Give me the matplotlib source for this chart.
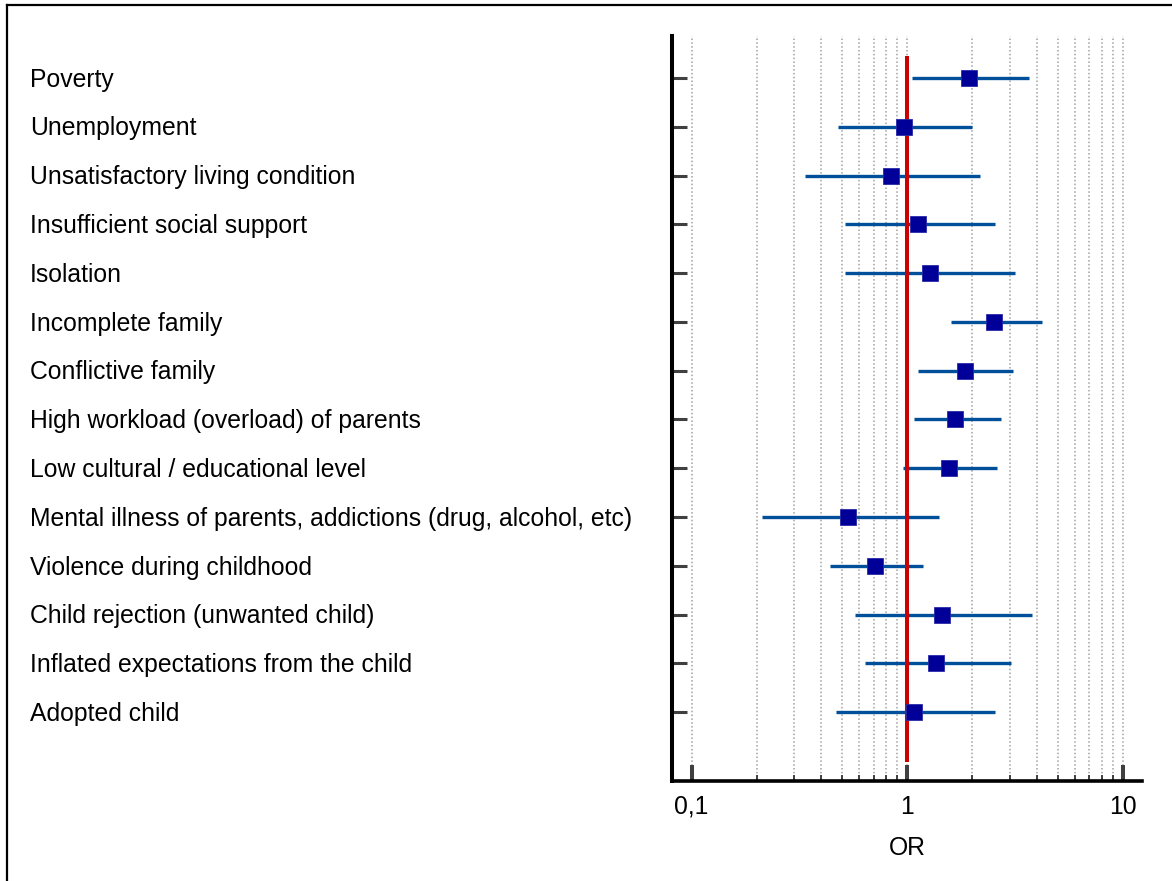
import matplotlib
matplotlib.use("Agg")
import matplotlib.pyplot as plt
import matplotlib.transforms as mtransforms
from matplotlib.lines import Line2D
from matplotlib.ticker import FixedLocator, NullFormatter

plt.rcParams['font.family'] = ['Liberation Sans', 'DejaVu Sans']

factors = ["Poverty", "Unemployment", "Unsatisfactory living condition",
           "Insufficient social support", "Isolation", "Incomplete family",
           "Conflictive family", "High workload (overload) of parents",
           "Low cultural / educational level",
           "Mental illness of parents, addictions (drug, alcohol, etc)",
           "Violence during childhood", "Child rejection (unwanted child)",
           "Inflated expectations from the child", "Adopted child"]
odds_ratio = [1.93, 0.97, 0.84, 1.12, 1.27, 2.53, 1.86, 1.67, 1.57, 0.53, 0.71, 1.45, 1.36, 1.08]
ci_low = [1.05, 0.475, 0.334, 0.517, 0.517, 1.59, 1.12, 1.07, 0.96, 0.211, 0.437, 0.574, 0.636, 0.465]
ci_high = [3.66, 2.0, 2.17, 2.56, 3.16, 4.23, 3.09, 2.73, 2.62, 1.40, 1.19, 3.80, 3.02, 2.56]

major_ticks = [0.1, 1, 10]
major_labels = ["0,1", "1", "10"]
minor_ticks = [0.2, 0.3, 0.4, 0.5, 0.6, 0.7, 0.8, 0.9, 2, 3, 4, 5, 6, 7, 8, 9]

fig = plt.figure(figsize=(11.72, 8.81), dpi=100)
ax = fig.add_axes([0.5736, 0.1135, 0.4006, 0.8456])

rows = list(range(len(factors)))

# confidence intervals
ax.hlines(rows, ci_low, ci_high, color='#004f9a', linewidth=2.4, zorder=3)
# reference line at OR = 1
ax.plot([1, 1], [-0.45, 14.02], color='#cc0000', linewidth=2.9, zorder=4, solid_capstyle='butt')
# point estimates
ax.plot(odds_ratio, rows, linestyle='none', marker='s', markersize=11,
        color='#000099', markeredgecolor='#2a2aa8', markeredgewidth=0.6, zorder=5)

ax.set_xscale('log')
ax.set_xlim(0.0813, 12.25)
ax.set_ylim(14.41, -0.86)

ax.set_xticks(major_ticks)
ax.set_xticklabels(major_labels, fontsize=17.8)
ax.xaxis.set_minor_locator(FixedLocator(minor_ticks))
ax.xaxis.set_minor_formatter(NullFormatter())
ax.tick_params(axis='x', which='major', direction='in', length=11.5, width=2.9,
               color='#404040', pad=10)
ax.tick_params(axis='x', which='minor', direction='in', length=4.5, width=1.4,
               color='#404040')
ax.grid(True, axis='x', which='both', linestyle=(0, (1, 1.5)), color='#a0a0a0', linewidth=1.1)

ax.set_yticks(rows)
ax.set_yticklabels([])
ax.tick_params(axis='y', direction='in', length=11, width=2.2, color='#404040')

for side in ['top', 'right']:
    ax.spines[side].set_visible(False)
ax.spines['left'].set_linewidth(2.9)
ax.spines['bottom'].set_linewidth(2.6)

ax.set_xlabel("OR", fontsize=17.8, labelpad=12)

trans = mtransforms.blended_transform_factory(fig.transFigure, ax.transData)
for r, name in zip(rows, factors):
    ax.text(0.0256, r + 0.178, name, transform=trans, fontsize=17.8, ha='left', va='baseline')

# frame around the picture (only left and top edges visible)
fig.add_artist(Line2D([0.006, 0.006], [0, 0.9945], color='black', linewidth=1.6))
fig.add_artist(Line2D([0.006, 1], [0.9945, 0.9945], color='black', linewidth=1.6))

fig.savefig("out.png", dpi=100)
